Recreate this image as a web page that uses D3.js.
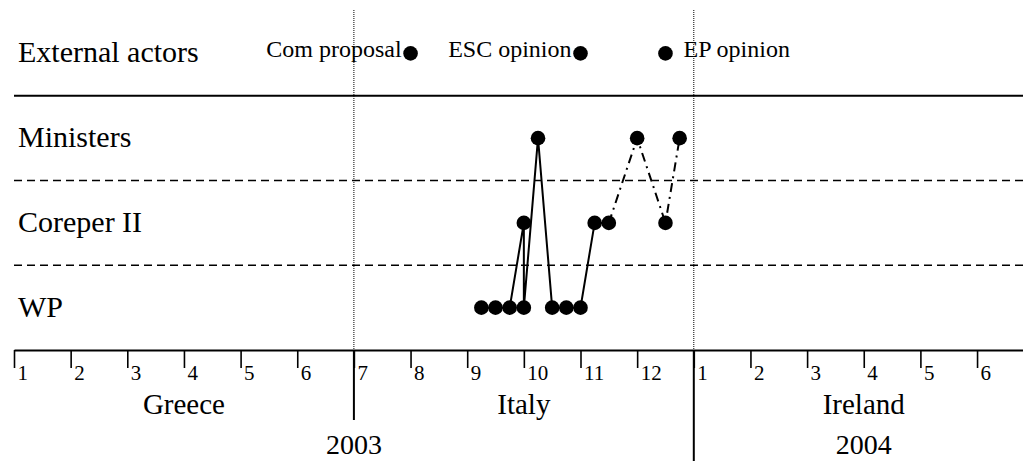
<!DOCTYPE html>
<html>
<head>
<meta charset="utf-8">
<script src="https://cdn.jsdelivr.net/npm/d3@7"></script>
<style>
  body { margin: 0; background: #fff; }
  svg, svg text { font-family: 'Liberation Serif', 'Times New Roman', serif; }
  svg { display: block; }
</style>
</head>
<body>
<div id="chart"></div>
<script>
// rows, top to bottom
const rows = ['External actors', 'Ministers', 'Coreper II', 'WP'];

// month tick labels (Jan 2003 .. Jun 2004)
const monthLabels = ['1','2','3','4','5','6','7','8','9','10','11','12','1','2','3','4','5','6'];

// presidencies, in months from Jan 2003
const presNames = ['Greece', 'Italy', 'Ireland'];
const presStart = [0, 6, 12];
const presEnd = [6, 12, 18];

// years
const years = ['2003', '2004'];
const yearMid = [6, 15];
const yearBreaks = [12];

// external actor events
const eventLabels = ['Com proposal', 'ESC opinion', 'EP opinion'];
const eventMonths = [7, 10, 11.5];

// council process, in order
const procMonths = [8.25, 8.5, 8.75, 9, 9, 9.25, 9.5, 9.75, 10, 10.25, 10.5, 11, 11.5, 11.75];
const procLevels = ['WP','WP','WP','Coreper II','WP','Ministers','WP','WP','WP',
                    'Coreper II','Coreper II','Ministers','Coreper II','Ministers'];

const w = 1023;
const h = 461;
const axisY = 350;
const serif = "'Liberation Serif', 'Times New Roman', serif";

const svg = d3.select('#chart')
              .append('svg')
              .attr('width', w)
              .attr('height', h);

// scales
const x = d3.scaleLinear()
            .domain([0, 18])
            .range([14, 14 + 18 * 56.65]);
const y = d3.scaleBand()
            .domain(rows)
            .range([11, axisY]);
const yc = d => y(d) + y.bandwidth() / 2;

// presidency / year dotted lines
svg.selectAll('.pres-line')
   .data(presStart.slice(1))
   .enter()
   .append('line')
   .attr('x1', d => x(d))
   .attr('x2', d => x(d))
   .attr('y1', 10)
   .attr('y2', axisY)
   .attr('stroke', '#000')
   .attr('stroke-width', 1)
   .attr('stroke-dasharray', '1,1');

// row dividers
svg.append('line')
   .attr('x1', x(0)).attr('x2', w)
   .attr('y1', y('Ministers')).attr('y2', y('Ministers'))
   .attr('stroke', '#000')
   .attr('stroke-width', 2.2);
svg.selectAll('.divider')
   .data(['Coreper II', 'WP'])
   .enter()
   .append('line')
   .attr('x1', x(0)).attr('x2', w)
   .attr('y1', d => y(d)).attr('y2', d => y(d))
   .attr('stroke', '#000')
   .attr('stroke-width', 1.6)
   .attr('stroke-dasharray', '8,5');

// row labels
svg.selectAll('.row-label')
   .data(rows)
   .enter()
   .append('text')
   .attr('x', 18)
   .attr('y', d => yc(d) + 9)
   .attr('font-family', serif)
   .attr('font-size', 30)
   .text(d => d);

// external events
const labelAfter = ['EP opinion'];
eventLabels.forEach((lab, i) => {
  const ex = x(eventMonths[i]);
  const ey = yc('External actors');
  svg.append('circle')
     .attr('cx', ex)
     .attr('cy', ey)
     .attr('r', 7.3)
     .attr('fill', '#000');
  const after = labelAfter.includes(lab);
  svg.append('text')
     .attr('x', after ? ex + 18 : ex - 9)
     .attr('y', ey + 4)
     .attr('text-anchor', after ? 'start' : 'end')
     .attr('font-family', serif)
     .attr('font-size', 24)
     .text(lab);
});

// process lines
const pts = procMonths.map((m, i) => [x(m), yc(procLevels[i])]);
const line = d3.line();
const dashFrom = 10;
svg.append('path')
   .attr('d', line(pts.slice(0, dashFrom + 1)))
   .attr('fill', 'none')
   .attr('stroke', '#000')
   .attr('stroke-width', 2);
svg.append('path')
   .attr('d', line(pts.slice(dashFrom)))
   .attr('fill', 'none')
   .attr('stroke', '#000')
   .attr('stroke-width', 2)
   .attr('stroke-dasharray', '9,5,2,5');

svg.selectAll('.dot')
   .data(pts)
   .enter()
   .append('circle')
   .attr('cx', d => d[0])
   .attr('cy', d => d[1])
   .attr('r', 7.3)
   .attr('fill', '#000');

// month axis
const xAxis = d3.axisBottom(x)
                .tickValues(d3.range(monthLabels.length))
                .tickFormat((d, i) => monthLabels[i])
                .tickSize(18)
                .tickSizeOuter(0);
const ax = svg.append('g')
              .attr('transform', 'translate(0,' + axisY + ')')
              .call(xAxis)
              .attr('font-family', serif)
              .attr('font-size', 21);
ax.select('.domain').attr('stroke-width', 2.2);
ax.selectAll('.tick line').attr('stroke-width', 1.6);
ax.selectAll('.tick text')
  .attr('x', 3)
  .attr('y', 30)
  .attr('dy', null)
  .attr('text-anchor', 'start')
  .attr('fill', '#000');

// long boundary ticks
svg.selectAll('.pres-tick')
   .data(presStart.slice(1))
   .enter()
   .append('line')
   .attr('x1', d => x(d))
   .attr('x2', d => x(d))
   .attr('y1', axisY)
   .attr('y2', d => yearBreaks.includes(d) ? h : 420)
   .attr('stroke', '#000')
   .attr('stroke-width', 2);

// presidency labels
svg.selectAll('.pres-label')
   .data(presNames)
   .enter()
   .append('text')
   .attr('x', (d, i) => x((presStart[i] + presEnd[i]) / 2))
   .attr('y', 414)
   .attr('text-anchor', 'middle')
   .attr('font-family', serif)
   .attr('font-size', 29)
   .text(d => d);

// year labels
svg.selectAll('.year-label')
   .data(years)
   .enter()
   .append('text')
   .attr('x', (d, i) => x(yearMid[i]))
   .attr('y', 454)
   .attr('text-anchor', 'middle')
   .attr('font-family', serif)
   .attr('font-size', 28)
   .text(d => d);
</script>
</body>
</html>
